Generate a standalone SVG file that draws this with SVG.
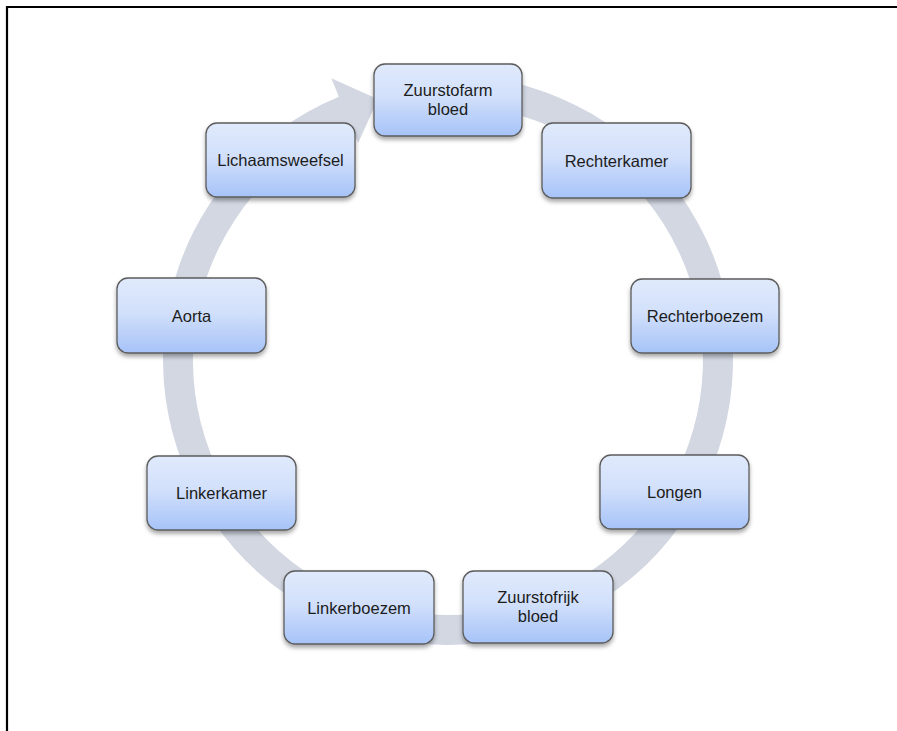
<svg xmlns="http://www.w3.org/2000/svg" width="897" height="731" viewBox="0 0 897 731">
<defs>
<linearGradient id="nodeFill" x1="0" y1="0" x2="0" y2="1">
<stop offset="0" stop-color="#e0eafc"/>
<stop offset="0.45" stop-color="#d2e0fb"/>
<stop offset="1" stop-color="#a6c3f8"/>
</linearGradient>
<filter id="shadow" x="-10%" y="-10%" width="120%" height="130%">
<feDropShadow dx="0" dy="3" stdDeviation="2.2" flood-color="#000" flood-opacity="0.35"/>
</filter>
</defs>
<style>
.node rect { fill: url(#nodeFill); stroke: #5c5c5c; stroke-width: 1.3; filter: url(#shadow); }
.node text { font-family: "Liberation Sans", Arial, sans-serif; font-size: 16.5px; fill: #1c1c1c; text-anchor: middle; }
.band { fill: #d2d7e2; }
</style>
<rect x="0" y="0" width="897" height="731" fill="#ffffff"/>
<path d="M7,731 V7 H897" fill="none" stroke="#000" stroke-width="2.2"/>
<g id="connectors">
<path class="band" d="M497.5,79.3 A285,285 0 1 1 338.9,96.7 L331.3,78.2 L378.1,99.2 L358.1,142.9 L350.4,124.4 A255,255 0 1 0 492.3,108.9 Z"/>
</g>
<g id="node-zuurstofarm" class="node">
<rect x="374" y="64" width="148" height="72" rx="11"/>
<text x="448" y="95.5">Zuurstofarm</text>
<text x="448" y="114.5">bloed</text>
</g>
<g id="node-rechterkamer" class="node">
<rect x="542" y="123" width="149" height="75" rx="11"/>
<text x="616.5" y="166.5">Rechterkamer</text>
</g>
<g id="node-rechterboezem" class="node">
<rect x="631" y="279" width="148" height="74" rx="11"/>
<text x="705" y="322">Rechterboezem</text>
</g>
<g id="node-longen" class="node">
<rect x="600" y="455" width="149" height="74" rx="11"/>
<text x="674.5" y="498">Longen</text>
</g>
<g id="node-zuurstofrijk" class="node">
<rect x="463" y="571" width="150" height="72" rx="11"/>
<text x="538" y="602.5">Zuurstofrijk</text>
<text x="538" y="621.5">bloed</text>
</g>
<g id="node-linkerboezem" class="node">
<rect x="284" y="571" width="150" height="73" rx="11"/>
<text x="359" y="614">Linkerboezem</text>
</g>
<g id="node-linkerkamer" class="node">
<rect x="147" y="456" width="149" height="74" rx="11"/>
<text x="221.5" y="499">Linkerkamer</text>
</g>
<g id="node-aorta" class="node">
<rect x="117" y="278" width="149" height="75" rx="11"/>
<text x="191.5" y="321.5">Aorta</text>
</g>
<g id="node-lichaamsweefsel" class="node">
<rect x="206" y="123" width="149" height="74" rx="11"/>
<text x="280.5" y="166">Lichaamsweefsel</text>
</g>
</svg>
